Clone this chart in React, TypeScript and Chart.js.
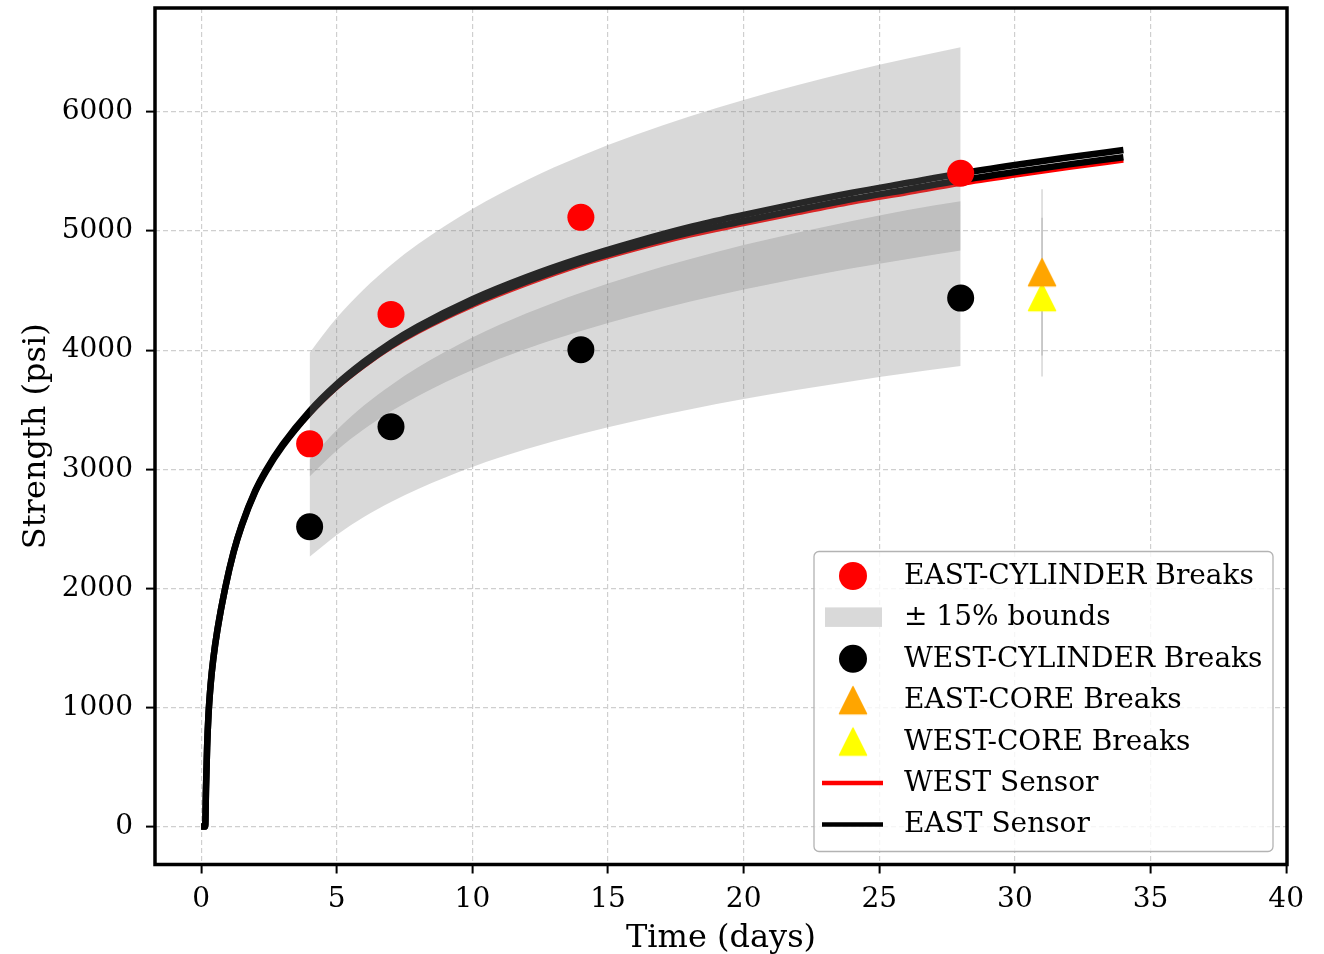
import React, { useEffect, useRef } from "react";
import { Chart, registerables } from "chart.js";

Chart.register(...registerables);

// ---------- data ----------
const sensorTimes = [0, 0.15, 0.18, 0.22, 0.27, 0.35, 0.45, 0.6, 0.885, 1.2, 1.5, 2, 2.4, 3, 4, 5, 6, 7, 8, 10, 12, 14, 16, 18, 20, 22, 24, 26, 28, 30, 32, 34];
const eastSensorA = [0, 0, 320, 660, 930, 1190, 1410, 1650, 2000, 2309, 2533, 2822, 2995, 3206, 3488, 3714, 3901, 4063, 4200, 4428, 4614, 4773, 4910, 5033, 5136, 5232, 5322, 5403, 5483, 5554, 5620, 5680];
const eastSensorB = [0, 0, 320, 660, 930, 1190, 1410, 1650, 2000, 2305, 2527, 2814, 2985, 3194, 3472, 3696, 3879, 4037, 4170, 4392, 4576, 4737, 4870, 4987, 5084, 5178, 5268, 5347, 5427, 5496, 5560, 5620];
const westSensor = [0, 0, 317, 656, 925, 1185, 1404, 1644, 1993, 2297, 2518, 2804, 2974, 3182, 3457, 3679, 3860, 4017, 4149, 4368, 4550, 4710, 4842, 4958, 5054, 5147, 5236, 5314, 5393, 5462, 5527, 5588];

const bandTimes = [4, 5, 6, 7, 8, 10, 12, 14, 16, 18, 20, 22, 24, 26, 28];
const eastBandUpper = [3977, 4271, 4512, 4716, 4892, 5186, 5427, 5630, 5806, 5961, 6101, 6226, 6341, 6446, 6544];
const eastBandLower = [2939, 3157, 3335, 3486, 3616, 3833, 4011, 4161, 4291, 4406, 4509, 4602, 4687, 4764, 4837];
const westBandUpper = [3080, 3329, 3535, 3706, 3856, 4106, 4310, 4483, 4632, 4763, 4882, 4988, 5085, 5175, 5250];
const westBandLower = [2265, 2448, 2599, 2725, 2835, 3019, 3169, 3296, 3406, 3502, 3590, 3668, 3739, 3805, 3866];

const cylinderDays = [4, 7, 14, 28];
const eastCylinder = [3213, 4300, 5115, 5485];
const westCylinder = [2517, 3357, 4003, 4437];

const coreDays = [31];
const eastCore = [4654];
const westCore = [4445];
const eastCoreRange = [3956, 5352];
const westCoreRange = [3778, 5112];

const xTickValues = [0, 5, 10, 15, 20, 25, 30, 35, 40];
const yTickValues = [0, 1000, 2000, 3000, 4000, 5000, 6000];

// ---------- styles ----------
const RED = "#ff0000";
const BLACK = "#000000";
const ORANGE = "#ffa500";
const YELLOW = "#ffff00";
const BAND = "rgba(128,128,128,0.3)";
const BAND_SWATCH = "#d9d9d9";
const ERR = "rgba(128,128,128,0.3)";
const GRID = "#cfcfcf";
const FONT = "'DejaVu Serif', serif";

function pts(xs: number[], ys: number[]) {
  return xs.map((x, i) => ({ x, y: ys[i] }));
}

function makeTriangle(color: string): HTMLCanvasElement {
  const c = document.createElement("canvas");
  c.width = 32;
  c.height = 32;
  const g = c.getContext("2d")!;
  g.beginPath();
  g.moveTo(16, 2.5);
  g.lineTo(29.5, 29.5);
  g.lineTo(2.5, 29.5);
  g.closePath();
  g.fillStyle = color;
  g.strokeStyle = color;
  g.lineWidth = 1.5;
  g.lineJoin = "round";
  g.fill();
  g.stroke();
  return c;
}

export default function App() {
  const ref = useRef<HTMLCanvasElement>(null);

  useEffect(() => {
    const canvas = ref.current!;
    const orangeTri = makeTriangle(ORANGE);
    const yellowTri = makeTriangle(YELLOW);

    const legendEntries: { label: string; kind: string; color: string; img?: HTMLCanvasElement }[] = [
      { label: "EAST-CYLINDER Breaks", kind: "circle", color: RED },
      { label: "± 15% bounds", kind: "rect", color: BAND_SWATCH },
      { label: "WEST-CYLINDER Breaks", kind: "circle", color: BLACK },
      { label: "EAST-CORE Breaks", kind: "img", color: ORANGE, img: orangeTri },
      { label: "WEST-CORE Breaks", kind: "img", color: YELLOW, img: yellowTri },
      { label: "WEST Sensor", kind: "line", color: RED },
      { label: "EAST Sensor", kind: "line", color: BLACK },
    ];

    const framePlugin = {
      id: "frameAndLegend",
      afterDatasetsDraw(chart: any) {
        const { ctx, chartArea: ca } = chart;
        ctx.save();
        ctx.strokeStyle = "#000";
        ctx.lineWidth = 3.5;
        ctx.strokeRect(ca.left, ca.top, ca.right - ca.left, ca.bottom - ca.top);
        ctx.restore();
      },
      afterDraw(chart: any) {
        const { ctx, chartArea: ca } = chart;
        const w = 459;
        const h = 300;
        const right = ca.right - 14;
        const bottom = ca.bottom - 13;
        const left = right - w;
        const top = bottom - h;
        ctx.save();
        ctx.beginPath();
        const r = 5;
        ctx.moveTo(left + r, top);
        ctx.lineTo(right - r, top);
        ctx.arcTo(right, top, right, top + r, r);
        ctx.lineTo(right, bottom - r);
        ctx.arcTo(right, bottom, right - r, bottom, r);
        ctx.lineTo(left + r, bottom);
        ctx.arcTo(left, bottom, left, bottom - r, r);
        ctx.lineTo(left, top + r);
        ctx.arcTo(left, top, left + r, top, r);
        ctx.closePath();
        ctx.fillStyle = "rgba(255,255,255,0.8)";
        ctx.fill();
        ctx.strokeStyle = "#b3b3b3";
        ctx.lineWidth = 1.3;
        ctx.stroke();

        const mx = left + 39;
        const tx = left + 90;
        ctx.font = `28px ${FONT}`;
        ctx.textAlign = "left";
        ctx.textBaseline = "alphabetic";
        legendEntries.forEach((e, i) => {
          const cy = top + 24.5 + i * 41.4;
          if (e.kind === "circle") {
            ctx.beginPath();
            ctx.arc(mx, cy, 14, 0, Math.PI * 2);
            ctx.fillStyle = e.color;
            ctx.fill();
          } else if (e.kind === "rect") {
            ctx.fillStyle = e.color;
            ctx.fillRect(mx - 28, cy - 10, 57, 19.5);
          } else if (e.kind === "img" && e.img) {
            ctx.drawImage(e.img, mx - 16, cy - 16);
          } else if (e.kind === "line") {
            ctx.beginPath();
            ctx.moveTo(mx - 31, cy);
            ctx.lineTo(mx + 30, cy);
            ctx.strokeStyle = e.color;
            ctx.lineWidth = 4.5;
            ctx.stroke();
          }
          ctx.fillStyle = "#000";
          ctx.fillText(e.label, tx, cy + 8);
        });
        ctx.restore();
      },
    };

    const lineBase = {
      pointRadius: 0,
      cubicInterpolationMode: "monotone" as const,
      fill: false,
    };
    const bandBase = {
      pointRadius: 0,
      borderWidth: 0,
      borderColor: "rgba(0,0,0,0)",
      cubicInterpolationMode: "monotone" as const,
      order: 5,
    };
    const markerBase = {
      showLine: false,
      pointBorderWidth: 0,
      order: 1,
    };

    const chart = new Chart(canvas, {
      type: "line",
      data: {
        datasets: [
          { ...lineBase, label: "WEST Sensor", data: pts(sensorTimes, westSensor), borderColor: RED, borderWidth: 3.5, order: 11 },
          { ...lineBase, label: "EAST Sensor", data: pts(sensorTimes, eastSensorA), borderColor: BLACK, borderWidth: 6.5, order: 10 },
          { ...lineBase, label: "EAST Sensor B", data: pts(sensorTimes, eastSensorB), borderColor: BLACK, borderWidth: 6.5, order: 10 },
          { ...bandBase, label: "east lower", data: pts(bandTimes, eastBandLower), fill: false },
          { ...bandBase, label: "± 15% bounds", data: pts(bandTimes, eastBandUpper), fill: { target: 3 }, backgroundColor: BAND },
          { ...bandBase, label: "west lower", data: pts(bandTimes, westBandLower), fill: false },
          { ...bandBase, label: "± 15% bounds west", data: pts(bandTimes, westBandUpper), fill: { target: 5 }, backgroundColor: BAND },
          { label: "east core range", data: pts([coreDays[0], coreDays[0]], eastCoreRange), borderColor: ERR, borderWidth: 1.6, pointRadius: 0, fill: false, order: 3 },
          { label: "west core range", data: pts([coreDays[0], coreDays[0]], westCoreRange), borderColor: ERR, borderWidth: 1.6, pointRadius: 0, fill: false, order: 3 },
          { ...markerBase, label: "EAST-CYLINDER Breaks", data: pts(cylinderDays, eastCylinder), pointRadius: 13.5, pointBackgroundColor: RED, pointBorderColor: RED },
          { ...markerBase, label: "WEST-CYLINDER Breaks", data: pts(cylinderDays, westCylinder), pointRadius: 13.5, pointBackgroundColor: BLACK, pointBorderColor: BLACK },
          { ...markerBase, label: "EAST-CORE Breaks", data: pts(coreDays, eastCore), pointRadius: 14, pointStyle: orangeTri as any },
          { ...markerBase, label: "WEST-CORE Breaks", data: pts(coreDays, westCore), pointRadius: 14, pointStyle: yellowTri as any },
        ] as any,
      },
      options: {
        animation: false,
        responsive: false,
        events: [],
        layout: { padding: { left: 0, right: 37, top: 2, bottom: 0 } },
        plugins: {
          legend: { display: false },
          tooltip: { enabled: false },
        },
        scales: {
          x: {
            type: "linear",
            min: -1.7,
            max: 40.03,
            afterBuildTicks: (s: any) => {
              s.ticks = xTickValues.map((v) => ({ value: v }));
            },
            afterFit: (s: any) => {
              s.height = 89.5;
              s.paddingLeft = 0;
              s.paddingRight = 0;
            },
            ticks: {
              font: { family: FONT, size: 28 },
              color: "#000",
              padding: 9,
              maxRotation: 0,
              autoSkip: false,
              callback: (v: any) => String(v),
            },
            grid: {
              color: GRID,
              lineWidth: 1.2,
              borderDash: [5, 3],
              tickColor: "#000",
              tickWidth: 2,
              tickLength: 9,
              tickBorderDash: [],
            } as any,
            border: { display: false, dash: [5, 3] },
            title: {
              display: true,
              text: "Time (days)",
              font: { family: FONT, size: 32 },
              color: "#000",
              padding: { top: 0, bottom: -4 },
            },
          },
          y: {
            type: "linear",
            min: -319,
            max: 6873,
            afterBuildTicks: (s: any) => {
              s.ticks = yTickValues.map((v) => ({ value: v }));
            },
            afterFit: (s: any) => {
              s.width = 155;
              s.paddingTop = 0;
              s.paddingBottom = 0;
            },
            ticks: {
              font: { family: FONT, size: 28 },
              color: "#000",
              padding: 13,
              autoSkip: false,
              callback: (v: any) => String(v),
            },
            grid: {
              color: GRID,
              lineWidth: 1.2,
              borderDash: [5, 3],
              tickColor: "#000",
              tickWidth: 2,
              tickLength: 9,
              tickBorderDash: [],
            } as any,
            border: { display: false, dash: [5, 3] },
            title: {
              display: true,
              text: "Strength (psi)",
              font: { family: FONT, size: 32 },
              color: "#000",
              padding: { top: 17, bottom: 0 },
            },
          },
        },
      } as any,
      plugins: [framePlugin],
    });

    return () => chart.destroy();
  }, []);

  return (
    <div style={{ position: "absolute", left: 0, top: 0, width: 1324, height: 954, overflow: "hidden", background: "#fff" }}>
      <canvas
        ref={ref}
        width={1324}
        height={960}
        style={{ display: "block", position: "absolute", left: 0, top: -6, width: 1324, height: 960 }}
      />
    </div>
  );
}
